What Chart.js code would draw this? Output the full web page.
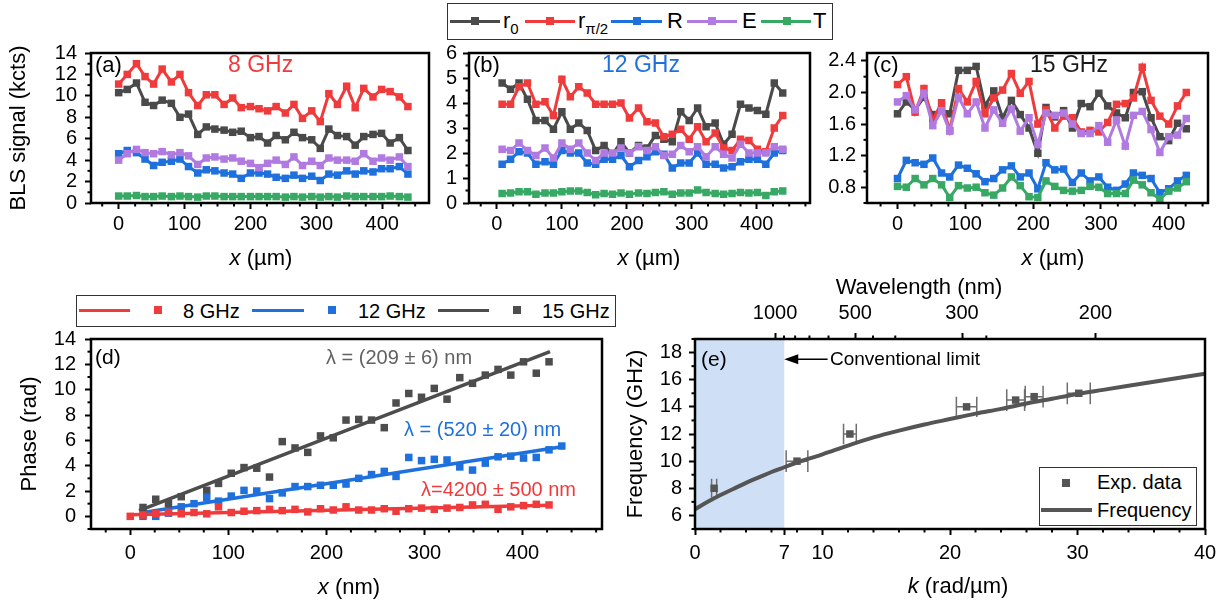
<!DOCTYPE html>
<html>
<head>
<meta charset="utf-8">
<title>BLS signal, phase and dispersion</title>
<style>
  body { margin: 0; background: #fff; }
  #page { position: relative; width: 1229px; height: 608px; overflow: hidden; font-family: Arial, 'Liberation Sans', sans-serif; }
  #page canvas { position: absolute; left: 0; top: 0; }
  .box { position: absolute; border: 1px solid #333; background: #fff; }
  .ln { position: absolute; height: 3px; }
  .sq { position: absolute; width: 8px; height: 8px; }
  .tx { position: absolute; line-height: 1; white-space: nowrap; color: #000; }
  .tx sub { font-size: 15px; vertical-align: -6px; line-height: 0; }
</style>
</head>
<body>
<div id="page">
  <canvas id="chartA" width="1229" height="608"></canvas>
  <canvas id="chartB" width="1229" height="608"></canvas>
  <canvas id="chartC" width="1229" height="608"></canvas>
  <canvas id="chartD" width="1229" height="608"></canvas>
  <canvas id="chartE" width="1229" height="608"></canvas>

  <!-- legend for (a)-(c) -->
  <div class="box" style="left:447px;top:3px;width:384px;height:35px"></div>
  <div class="ln" style="left:450px;top:19.5px;width:50px;background:#4a4a4a"></div>
  <div class="sq" style="left:471px;top:17px;background:#4a4a4a"></div>
  <div class="tx" style="left:503px;top:10px;font-size:22px">r<sub>0</sub></div>
  <div class="ln" style="left:525px;top:19.5px;width:50px;background:#ef3b3c"></div>
  <div class="sq" style="left:546px;top:17px;background:#ef3b3c"></div>
  <div class="tx" style="left:578px;top:10px;font-size:22px">r<sub>π/2</sub></div>
  <div class="ln" style="left:611px;top:19.5px;width:51px;background:#1e70dc"></div>
  <div class="sq" style="left:633px;top:17px;background:#1e70dc"></div>
  <div class="tx" style="left:667px;top:10px;font-size:22px">R</div>
  <div class="ln" style="left:687px;top:19.5px;width:50px;background:#b07ae0"></div>
  <div class="sq" style="left:708px;top:17px;background:#b07ae0"></div>
  <div class="tx" style="left:742px;top:10px;font-size:22px">E</div>
  <div class="ln" style="left:761px;top:19.5px;width:50px;background:#38a865"></div>
  <div class="sq" style="left:783px;top:17px;background:#38a865"></div>
  <div class="tx" style="left:813px;top:10px;font-size:22px">T</div>

  <!-- legend for (d) -->
  <div class="box" style="left:76px;top:295px;width:538px;height:30px"></div>
  <div class="ln" style="left:79px;top:308.5px;width:51px;background:#ef3b3c"></div>
  <div class="sq" style="left:154px;top:306px;background:#ef3b3c"></div>
  <div class="tx" style="left:183px;top:301px;font-size:20px">8 GHz</div>
  <div class="ln" style="left:252px;top:308.5px;width:52px;background:#1e70dc"></div>
  <div class="sq" style="left:328px;top:306px;background:#1e70dc"></div>
  <div class="tx" style="left:358px;top:301px;font-size:20px">12 GHz</div>
  <div class="ln" style="left:438px;top:308.5px;width:51px;background:#4d4d4d"></div>
  <div class="sq" style="left:513px;top:306px;background:#4d4d4d"></div>
  <div class="tx" style="left:542px;top:301px;font-size:20px">15 GHz</div>

  <!-- legend for (e) -->
  <div class="box" style="left:1039px;top:467px;width:156px;height:57px"></div>
  <div class="sq" style="left:1062px;top:479px;background:#555"></div>
  <div class="tx" style="left:1097px;top:472px;font-size:20px">Exp. data</div>
  <div class="ln" style="left:1041px;top:508px;width:51px;height:3.5px;background:#555"></div>
  <div class="tx" style="left:1097px;top:499.5px;font-size:20px">Frequency</div>
</div>

<script src="https://cdn.jsdelivr.net/npm/chart.js"></script>
<script>
const FONT = "Arial, 'Liberation Sans', sans-serif";

// ---------- (a) 8 GHz ----------
const aX   = [0, 13, 27, 40, 53, 66, 80, 93, 106, 120, 133, 146, 160, 173, 186, 200, 213, 226, 239, 253, 266, 279, 293, 306, 319, 332, 346, 359, 372, 386, 399, 412, 426, 439];
const aR0  = [10.3, 10.6, 11.2, 9.4, 9.1, 9.6, 9.3, 8.0, 8.3, 6.4, 7.1, 6.9, 6.8, 6.6, 6.7, 6.1, 6.2, 5.6, 6.3, 5.9, 6.6, 6.1, 5.9, 5.1, 6.9, 6.3, 6.2, 5.4, 6.2, 6.4, 6.5, 5.6, 6.1, 4.9];
const aRpi = [11.1, 12.0, 13.0, 11.8, 11.1, 12.5, 11.3, 12.0, 10.3, 9.1, 10.1, 10.1, 9.2, 9.8, 8.9, 9.0, 8.8, 8.6, 9.0, 8.4, 9.2, 7.9, 8.6, 7.6, 10.2, 9.2, 10.9, 8.9, 10.7, 9.9, 10.6, 10.4, 9.9, 9.0];
const aR   = [4.6, 4.9, 4.7, 4.1, 3.5, 3.8, 3.9, 4.1, 3.4, 2.8, 3.1, 3.0, 2.8, 2.7, 2.3, 2.8, 2.8, 2.7, 2.4, 2.3, 2.6, 2.3, 2.5, 2.1, 2.7, 2.6, 3.0, 2.7, 3.0, 2.9, 3.2, 3.2, 3.4, 2.7];
const aE   = [4.0, 4.6, 5.0, 4.7, 4.6, 4.8, 4.5, 4.7, 4.4, 3.6, 4.2, 4.3, 4.1, 4.2, 3.9, 3.7, 3.3, 3.7, 4.0, 3.6, 4.3, 3.5, 3.9, 3.5, 4.2, 4.0, 4.0, 3.9, 4.6, 3.9, 4.2, 4.0, 4.3, 3.4];
const aT   = [0.65, 0.65, 0.7, 0.6, 0.6, 0.65, 0.6, 0.65, 0.6, 0.55, 0.65, 0.65, 0.6, 0.6, 0.6, 0.6, 0.6, 0.6, 0.6, 0.55, 0.6, 0.55, 0.6, 0.55, 0.6, 0.55, 0.65, 0.6, 0.6, 0.6, 0.6, 0.65, 0.6, 0.55];

// ---------- (b) 12 GHz ----------
const bX   = [8, 21, 34, 47, 60, 74, 87, 100, 113, 126, 139, 152, 165, 178, 191, 204, 218, 231, 244, 257, 270, 283, 296, 309, 322, 336, 349, 362, 375, 388, 401, 414, 427, 440];
const bR0  = [4.8, 4.55, 4.8, 4.15, 3.3, 3.3, 2.95, 3.65, 2.95, 3.2, 2.9, 2.1, 2.3, 1.95, 2.45, 2.0, 2.3, 2.2, 2.7, 2.55, 2.45, 3.65, 3.3, 3.8, 3.05, 3.2, 2.35, 2.75, 3.95, 3.8, 3.7, 3.55, 4.8, 4.4];
const bRpi = [3.95, 3.95, 4.65, 4.8, 3.95, 4.05, 3.5, 4.95, 4.25, 4.65, 4.4, 3.95, 3.95, 3.95, 4.0, 3.4, 3.8, 3.25, 3.2, 2.65, 2.75, 2.95, 2.55, 3.05, 2.45, 2.8, 2.2, 2.1, 2.55, 2.5, 2.15, 2.05, 3.0, 3.5];
const bR   = [1.55, 1.75, 2.05, 2.0, 1.55, 1.65, 1.55, 2.1, 2.0, 2.0, 1.6, 1.55, 1.75, 1.75, 1.9, 1.45, 1.7, 1.85, 2.05, 1.95, 1.4, 1.6, 1.6, 2.0, 1.55, 1.55, 1.4, 1.45, 1.65, 1.75, 1.75, 1.55, 2.0, 2.1];
const bE   = [2.15, 2.1, 2.4, 2.1, 1.9, 2.2, 1.8, 2.4, 2.15, 2.4, 2.0, 1.7, 2.0, 2.0, 2.2, 2.0, 2.25, 2.1, 2.25, 1.9, 1.95, 2.3, 2.05, 2.25, 1.85, 2.25, 1.95, 1.8, 2.35, 2.0, 2.0, 2.0, 2.25, 2.15];
const bT   = [0.38, 0.4, 0.45, 0.45, 0.35, 0.4, 0.4, 0.45, 0.48, 0.48, 0.42, 0.33, 0.38, 0.35, 0.4, 0.35, 0.4, 0.38, 0.42, 0.45, 0.35, 0.4, 0.4, 0.52, 0.42, 0.38, 0.35, 0.38, 0.42, 0.4, 0.42, 0.3, 0.45, 0.48];

// ---------- (c) 15 GHz ----------
const cX   = [0, 13, 26, 39, 52, 65, 77, 90, 103, 116, 129, 142, 155, 168, 181, 194, 207, 219, 232, 245, 258, 271, 284, 297, 310, 323, 336, 348, 361, 374, 387, 400, 413, 426];
const cR0  = [1.73, 1.88, 1.78, 1.94, 1.72, 1.78, 1.73, 2.28, 2.28, 2.33, 1.83, 2.02, 1.68, 1.90, 1.72, 1.55, 1.23, 1.81, 1.69, 1.77, 1.55, 1.86, 1.82, 1.99, 1.83, 1.74, 1.68, 2.00, 2.01, 1.68, 1.44, 1.39, 1.61, 1.54];
const cRpi = [2.10, 2.20, 1.75, 2.05, 1.65, 1.87, 1.52, 2.05, 1.88, 2.14, 1.73, 1.93, 2.03, 2.24, 1.99, 2.14, 1.60, 1.78, 1.55, 1.70, 1.68, 1.50, 1.52, 1.50, 1.62, 1.85, 1.86, 1.93, 2.32, 1.90, 1.70, 1.60, 1.83, 2.00];
const cR   = [0.91, 1.14, 1.11, 1.09, 1.17, 0.98, 0.93, 1.08, 1.04, 0.97, 0.87, 0.91, 1.02, 1.07, 0.93, 0.98, 0.78, 1.11, 1.02, 1.03, 0.86, 0.98, 0.88, 0.93, 0.80, 0.76, 0.84, 0.98, 0.95, 0.91, 0.73, 0.78, 0.88, 0.95];
const cE   = [1.88, 1.96, 1.78, 1.99, 1.58, 1.77, 1.51, 1.94, 1.73, 1.88, 1.55, 1.78, 1.61, 1.79, 1.51, 1.68, 1.34, 1.74, 1.71, 1.74, 1.60, 1.48, 1.48, 1.58, 1.37, 1.65, 1.32, 1.71, 1.76, 1.53, 1.24, 1.44, 1.46, 1.67];
const cT   = [0.81, 0.80, 0.91, 0.83, 0.91, 0.83, 0.67, 0.82, 0.79, 0.80, 0.73, 0.70, 0.79, 0.93, 0.82, 0.68, 0.67, 0.88, 0.81, 0.76, 0.75, 0.76, 0.81, 0.80, 0.72, 0.72, 0.72, 0.89, 0.83, 0.73, 0.65, 0.75, 0.79, 0.87];

// ---------- (d) phase ----------
const dX8   = [0, 13, 26, 39, 52, 65, 78, 90, 103, 116, 129, 142, 155, 168, 181, 194, 207, 220, 233, 246, 259, 271, 284, 297, 310, 323, 336, 349, 362, 375, 388, 401, 414, 427];
const dPh8  = [0.0, 0.1, 0.2, 0.3, 0.2, 0.3, 0.2, 0.75, 0.3, 0.4, 0.45, 0.55, 0.45, 0.55, 0.35, 0.6, 0.5, 0.75, 0.5, 0.5, 0.6, 0.4, 0.6, 0.65, 0.55, 0.65, 0.7, 0.9, 0.95, 0.55, 0.75, 0.85, 0.95, 0.9];
const dX12  = [13, 26, 39, 52, 65, 78, 90, 103, 116, 129, 142, 155, 168, 181, 194, 207, 220, 233, 246, 259, 271, 284, 297, 310, 323, 336, 349, 362, 375, 388, 401, 414, 427, 440];
const dPh12 = [0.0, 0.0, 0.25, 0.75, 1.0, 1.5, 1.2, 1.6, 2.05, 2.0, 1.4, 1.85, 2.35, 2.35, 2.45, 2.45, 2.55, 3.0, 3.3, 3.55, 3.15, 4.65, 4.4, 4.5, 4.45, 3.9, 3.65, 4.2, 4.7, 4.75, 4.6, 4.65, 5.25, 5.55];
const dX15  = [13, 26, 39, 52, 78, 90, 103, 116, 129, 142, 155, 168, 181, 194, 207, 220, 233, 246, 259, 271, 284, 297, 310, 323, 336, 349, 362, 375, 388, 401, 414, 427];
const dPh15 = [0.7, 1.35, 1.0, 1.55, 2.05, 2.6, 3.4, 3.85, 3.8, 3.1, 5.9, 5.4, 5.05, 6.35, 6.2, 7.6, 7.65, 7.6, 7.0, 8.95, 9.7, 9.4, 10.1, 9.25, 10.95, 10.5, 11.15, 11.6, 11.15, 12.2, 11.3, 12.2];
const fit8X  = [0, 427],  fit8Y  = [0.12, 0.88];
const fit12X = [10, 440], fit12Y = [0.27, 5.5];
const fit15X = [9, 428],  fit15Y = [0.45, 13.0];

// ---------- (e) dispersion ----------
const expK  = [1.5, 8.0, 12.15, 21.3, 25.15, 26.6, 30.1];
const expF  = [8.0, 10.0, 12.0, 14.0, 14.5, 14.75, 15.0];
const expDk = [0.2, 0.85, 0.5, 0.8, 0.7, 0.7, 0.9];
const expDf = [0.7, 0.8, 0.75, 0.75, 0.8, 0.8, 0.8];
const curveK = [0, 1, 2, 3, 4, 5, 6, 7, 8, 9, 10, 12, 14, 16, 18, 20, 22, 24, 26, 28, 30, 32, 34, 36, 38, 40];
const curveF = [6.45, 7.0, 7.5, 7.95, 8.4, 8.8, 9.2, 9.55, 9.9, 10.2, 10.5, 11.15, 11.75, 12.25, 12.7, 13.1, 13.5, 13.85, 14.25, 14.6, 14.95, 15.25, 15.55, 15.85, 16.15, 16.45];
const limitK = [0, 7];

// tick labels
const xTicksUm = [0, 100, 200, 300, 400];
const yTicksA = [0, 2, 4, 6, 8, 10, 12, 14];
const yTicksB = [0, 1, 2, 3, 4, 5, 6];
const yTicksC = [0.8, 1.2, 1.6, 2.0, 2.4];
const yTicksD = [0, 2, 4, 6, 8, 10, 12, 14];
const xTicksE = [0, 7, 10, 20, 30, 40];
const yTicksE = [6, 8, 10, 12, 14, 16, 18];
const waveTicks = [1000, 500, 300, 200];
const waveMinor = [900, 800, 700, 600, 450, 400, 275];

const COL = { r0: '#4a4a4a', rpi: '#ef3b3c', R: '#1e70dc', E: '#b07ae0', T: '#38a865', dark: '#4d4d4d', curve: '#555' };

Chart.defaults.font.family = FONT;
Chart.defaults.color = '#000';

function pts(xs, ys) { return xs.map((x, i) => ({ x: x, y: ys[i] })); }

function axis(pos, min, max, major, size, pad, fmt) {
  return {
    type: 'linear', position: pos, min: min, max: max,
    afterBuildTicks: s => { s.ticks = major.map(v => ({ value: v })); },
    afterFit: s => { if (pos === 'left') s.width = size; else s.height = size; },
    grid: { drawOnChartArea: false, drawTicks: true, tickLength: 6, tickWidth: 2, tickColor: '#000' },
    border: { display: false },
    ticks: { padding: pad, color: '#000', font: { size: 20 }, autoSkip: false, maxRotation: 0,
             callback: fmt || (v => String(v)) }
  };
}

// frame around the plot area
const frame = {
  id: 'frame',
  afterDatasetsDraw(chart) {
    const a = chart.chartArea, ctx = chart.ctx;
    ctx.save();
    ctx.lineWidth = 2.5; ctx.strokeStyle = '#000';
    ctx.strokeRect(a.left, a.top, a.right - a.left, a.bottom - a.top);
    ctx.restore();
  }
};

// short minor ticks, by step or by explicit values
function minorTicks(steps, values) {
  return {
    id: 'minorTicks',
    afterDraw(chart) {
      const ctx = chart.ctx;
      ctx.save(); ctx.strokeStyle = '#000'; ctx.lineWidth = 2;
      const mark = (sc, v) => {
        const p = sc.getPixelForValue(v);
        ctx.beginPath();
        if (sc.position === 'left') { ctx.moveTo(sc.right - 3.5, p); ctx.lineTo(sc.right, p); }
        else if (sc.position === 'bottom') { ctx.moveTo(p, sc.top); ctx.lineTo(p, sc.top + 3.5); }
        else { ctx.moveTo(p, sc.bottom - 3.5); ctx.lineTo(p, sc.bottom); }
        ctx.stroke();
      };
      Object.keys(steps).forEach(id => {
        const sc = chart.scales[id], st = steps[id];
        const majors = sc.ticks.map(t => t.value);
        for (let i = Math.ceil(sc.min / st - 1e-9); i * st <= sc.max + 1e-9; i++) {
          const v = i * st;
          if (majors.some(m => Math.abs(m - v) < st / 10)) continue;
          mark(sc, v);
        }
      });
      Object.keys(values || {}).forEach(id => values[id].forEach(v => mark(chart.scales[id], v)));
      ctx.restore();
    }
  };
}

function drawRich(ctx, it) {
  const size = it.size || 22;
  const parts = typeof it.t === 'string' ? [[it.t]] : it.t;
  ctx.save();
  ctx.translate(it.x, it.y);
  if (it.rot) ctx.rotate(it.rot * Math.PI / 180);
  ctx.fillStyle = it.color || '#000';
  ctx.textBaseline = 'middle';
  ctx.textAlign = 'left';
  const fonts = parts.map(p => (p[1] ? 'italic ' : '') + size + 'px ' + FONT);
  let total = 0;
  const widths = parts.map((p, i) => { ctx.font = fonts[i]; const w = ctx.measureText(p[0]).width; total += w; return w; });
  let x = it.align === 'left' ? 0 : -total / 2;
  parts.forEach((p, i) => { ctx.font = fonts[i]; ctx.fillText(p[0], x, 0); x += widths[i]; });
  ctx.restore();
}

function texts(items) {
  return { id: 'texts', afterDraw(chart) { items.forEach(it => drawRich(chart.ctx, it)); } };
}

function options(padding, scales) {
  return {
    responsive: false, animation: false, events: [], devicePixelRatio: 1,
    layout: { padding: padding },
    scales: scales,
    plugins: { legend: { display: false }, tooltip: { enabled: false } }
  };
}

function mapSeries(xs, r0, rpi, r, e, t) {
  return [[r0, COL.r0, 5], [rpi, COL.rpi, 4], [r, COL.R, 3], [e, COL.E, 2], [t, COL.T, 1]].map(([ys, c, o]) => ({
    data: pts(xs, ys), showLine: true, borderColor: c, backgroundColor: c, borderWidth: 3,
    pointStyle: 'rect', pointRadius: 5.3, pointBorderWidth: 0, pointBackgroundColor: c, order: o
  }));
}

const umTitle = [['x', true], [' (µm)']];

// (a)
new Chart(document.getElementById('chartA'), {
  type: 'scatter',
  data: { datasets: mapSeries(aX, aR0, aRpi, aR, aE, aT) },
  options: options({ left: 31, top: 53, right: 800, bottom: 365 }, {
    x: axis('bottom', -42, 471, xTicksUm, 40, 3),
    y: axis('left', 0, 14, yTicksA, 60, 8)
  }),
  plugins: [frame, minorTicks({ x: 25, y: 1 }), texts([
    { t: 'BLS signal (kcts)', x: 19, y: 128, rot: -90 },
    { t: umTitle, x: 261, y: 259 },
    { t: '(a)', x: 95, y: 66, align: 'left' },
    { t: '8 GHz', x: 228, y: 66, align: 'left', size: 23, color: COL.rpi }
  ])]
});

// (b)
new Chart(document.getElementById('chartB'), {
  type: 'scatter',
  data: { datasets: mapSeries(bX, bR0, bRpi, bR, bE, bT) },
  options: options({ left: 409, top: 53, right: 419, bottom: 365 }, {
    x: axis('bottom', -43, 482, xTicksUm, 40, 3),
    y: axis('left', 0, 6, yTicksB, 60, 6)
  }),
  plugins: [frame, minorTicks({ x: 25, y: 0.5 }), texts([
    { t: umTitle, x: 649, y: 259 },
    { t: '(b)', x: 473, y: 66, align: 'left' },
    { t: '12 GHz', x: 602, y: 66, align: 'left', size: 23, color: COL.R }
  ])]
});

// (c)
new Chart(document.getElementById('chartC'), {
  type: 'scatter',
  data: { datasets: mapSeries(cX, cR0, cRpi, cR, cE, cT) },
  options: options({ left: 807, top: 53, right: 21, bottom: 365 }, {
    x: axis('bottom', -45, 458, xTicksUm, 40, 3),
    y: axis('left', 0.6, 2.5, yTicksC, 60, 5, v => v.toFixed(1))
  }),
  plugins: [frame, minorTicks({ x: 25, y: 0.2 }), texts([
    { t: umTitle, x: 1053, y: 259 },
    { t: '(c)', x: 873, y: 66, align: 'left' },
    { t: '15 GHz', x: 1030, y: 66, align: 'left', size: 23, color: '#1a1a1a' }
  ])]
});

// (d)
function phasePoints(xs, ys, c) {
  return { data: pts(xs, ys), showLine: false, pointStyle: 'rect', pointRadius: 5.3, pointBorderWidth: 0,
           pointBackgroundColor: c, backgroundColor: c, borderColor: c, order: 1 };
}
function fitLine(xs, ys, c) {
  return { data: pts(xs, ys), showLine: true, pointRadius: 0, borderWidth: 3.5, borderColor: c, order: 2 };
}
new Chart(document.getElementById('chartD'), {
  type: 'scatter',
  data: { datasets: [
    fitLine(fit8X, fit8Y, COL.rpi), phasePoints(dX8, dPh8, COL.rpi),
    fitLine(fit12X, fit12Y, COL.R), phasePoints(dX12, dPh12, COL.R),
    fitLine(fit15X, fit15Y, COL.dark), phasePoints(dX15, dPh15, COL.dark)
  ] },
  options: options({ left: 21, top: 339, right: 627, bottom: 34 }, {
    x: axis('bottom', -40, 481, xTicksUm, 45, 6),
    y: axis('left', -1, 14, yTicksD, 70, 9)
  }),
  plugins: [frame, minorTicks({ x: 25, y: 1 }), texts([
    { t: 'Phase (rad)', x: 30, y: 434, rot: -90 },
    { t: [['x', true], [' (nm)']], x: 349, y: 588 },
    { t: '(d)', x: 95, y: 358, align: 'left', size: 21 },
    { t: 'λ = (209 ± 6) nm', x: 326, y: 358, align: 'left', size: 20, color: '#626262' },
    { t: 'λ = (520 ± 20) nm', x: 404, y: 430, align: 'left', size: 20, color: COL.R },
    { t: 'λ=4200 ± 500 nm', x: 421, y: 490, align: 'left', size: 20, color: COL.rpi }
  ])]
});

// (e)
const extrasE = {
  id: 'extrasE',
  beforeDatasetsDraw(chart) {
    const ctx = chart.ctx, a = chart.chartArea, x = chart.scales.x, y = chart.scales.y;
    ctx.save();
    ctx.fillStyle = '#cfe0f6';
    const x0 = x.getPixelForValue(limitK[0]), x1 = x.getPixelForValue(limitK[1]);
    ctx.fillRect(x0, a.top, x1 - x0, a.bottom - a.top);
    ctx.strokeStyle = '#6e6e6e'; ctx.lineWidth = 1.5;
    expK.forEach((k, i) => {
      const py = y.getPixelForValue(expF[i]);
      const xl = x.getPixelForValue(k - expDk[i]), xr = x.getPixelForValue(k + expDk[i]);
      const yt = y.getPixelForValue(expF[i] + expDf[i]), yb = y.getPixelForValue(expF[i] - expDf[i]);
      ctx.beginPath();
      ctx.moveTo(xl, py); ctx.lineTo(xr, py);
      ctx.moveTo(xl, yt); ctx.lineTo(xl, yb);
      ctx.moveTo(xr, yt); ctx.lineTo(xr, yb);
      ctx.stroke();
    });
    ctx.restore();
  },
  afterDraw(chart) {
    const ctx = chart.ctx, x = chart.scales.x, y = chart.scales.y;
    const tip = x.getPixelForValue(limitK[1]), tail = x.getPixelForValue(10.4), py = y.getPixelForValue(17.5);
    ctx.save();
    ctx.strokeStyle = '#000'; ctx.fillStyle = '#000'; ctx.lineWidth = 1.5;
    ctx.beginPath(); ctx.moveTo(tail, py); ctx.lineTo(tip + 10, py); ctx.stroke();
    ctx.beginPath(); ctx.moveTo(tip, py); ctx.lineTo(tip + 14, py - 5); ctx.lineTo(tip + 14, py + 5); ctx.closePath(); ctx.fill();
    ctx.restore();
  }
};
const waveToK = w => 2 * Math.PI * 1000 / w;
const topAxis = axis('top', 0, 40, [], 45, 8, (v, i) => String(waveTicks[i]));
topAxis.afterBuildTicks = s => { s.ticks = waveTicks.map(w => ({ value: waveToK(w) })); };

new Chart(document.getElementById('chartE'), {
  type: 'scatter',
  data: { datasets: [
    { data: pts(expK, expF), showLine: false, pointStyle: 'rect', pointRadius: 5.3, pointBorderWidth: 0,
      pointBackgroundColor: COL.curve, backgroundColor: COL.curve, order: 1 },
    { data: pts(curveK, curveF), showLine: true, pointRadius: 0, borderWidth: 4, borderColor: COL.curve,
      cubicInterpolationMode: 'monotone', order: 2 }
  ] },
  options: options({ left: 635, top: 294, right: 24, bottom: 34 }, {
    x: axis('bottom', 0, 40, xTicksE, 45, 6),
    x2: topAxis,
    y: axis('left', 5, 19, yTicksE, 60, 7)
  }),
  plugins: [extrasE, frame, minorTicks({ x: 2, y: 1 }, { x2: waveMinor.map(waveToK) }), texts([
    { t: 'Frequency (GHz)', x: 636, y: 434, rot: -90 },
    { t: [['k', true], [' (rad/µm)']], x: 958, y: 587 },
    { t: 'Wavelength (nm)', x: 919, y: 288 },
    { t: '(e)', x: 701, y: 360, align: 'left', size: 21 },
    { t: 'Conventional limit', x: 830, y: 360, align: 'left', size: 19 }
  ])]
});
</script>
</body>
</html>
